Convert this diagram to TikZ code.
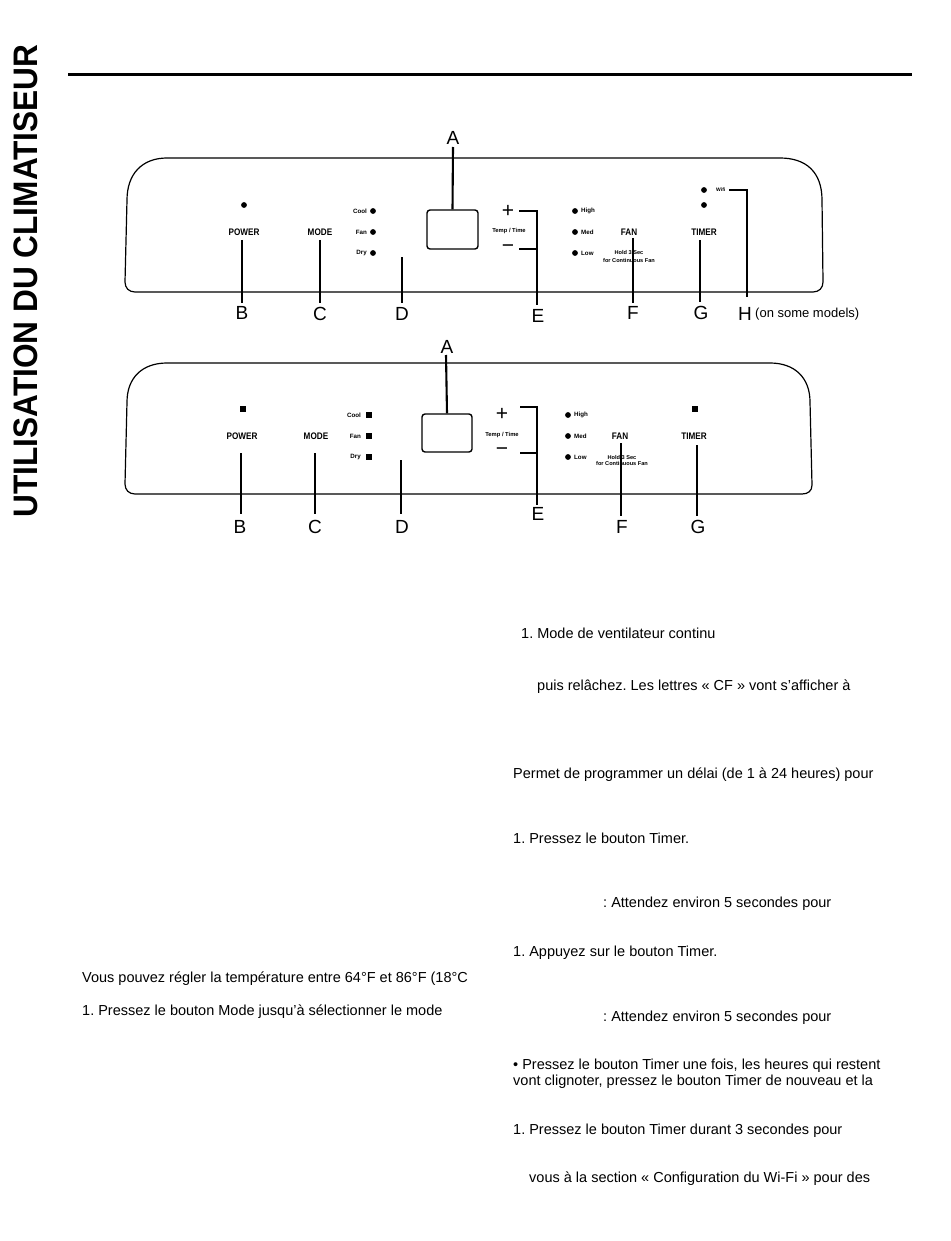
\documentclass[tikz,border=0pt]{standalone}
\usepackage{fontspec}
\setmainfont{Liberation Sans}
\newfontfamily\keyfont[FakeStretch=0.86]{Liberation Sans}
\newfontfamily\ttlfont[FakeStretch=0.93]{Liberation Sans}
\frenchspacing
\begin{document}
\begin{tikzpicture}[x=1pt,y=-1pt,
  panel/.style={line width=1.2pt},
  lead/.style={line width=2.1pt},
  keylbl/.style={inner sep=0, font=\keyfont\bfseries\fontsize{9.5}{9.5}\selectfont},
  tiny/.style={inner sep=0, font=\bfseries\fontsize{6.2}{6.2}\selectfont},
  hold/.style={inner sep=0, font=\bfseries\fontsize{5.6}{5.6}\selectfont},
  letter/.style={inner sep=0, font=\fontsize{19}{19}\selectfont},
  sign/.style={inner sep=0, font=\fontsize{21}{21}\selectfont},
  body/.style={inner sep=0, anchor=base west, font=\fontsize{14.5}{14.5}\selectfont},
  note/.style={inner sep=0, anchor=base west, font=\fontsize{13}{13}\selectfont},
  ledc/.style={fill, circle, minimum size=5.8pt, inner sep=0},
  leds/.style={fill, rectangle, minimum size=5.5pt, inner sep=0},
  disp/.style={draw, line width=1.4pt, rounded corners=3pt, inner sep=0}]
\useasboundingbox (0,0) rectangle (950,1241);
\fill[white] (0,0) rectangle (950,1241);

% side title and header rule
\node[rotate=90, inner sep=0, font=\ttlfont\bfseries\fontsize{34}{34}\selectfont] (title) at (26,281) {UTILISATION DU CLIMATISEUR};
\draw[line width=3pt] (68,75) -- (912,75);

% ================= top panel =================
\draw[panel] (135,292) -- (813,292) .. controls (819,292) and (823,288) .. (823,282)
  -- (822,200) .. controls (822,172) and (806,158) .. (780,158) -- (167,158)
  .. controls (142,158) and (127,174) .. (127,200) -- (125,282)
  .. controls (125,288) and (129,292) .. (135,292) -- cycle;

\node[ledc] (t-pwrled) at (244,205) {};
\node[keylbl] (t-power) at (244,232) {POWER};
\node[keylbl] (t-mode) at (320,232) {MODE};
\node[tiny, anchor=east] (t-cool) at (367,211) {Cool};
\node[tiny, anchor=east] (t-fan) at (367,232) {Fan};
\node[tiny, anchor=east] (t-dry) at (367,253) {Dry};
\node[ledc] (t-coolled) at (373,211) {};
\node[ledc] (t-fanled) at (373,232) {};
\node[ledc] (t-dryled) at (373,253) {};
\node[disp, minimum width=51pt, minimum height=39pt] (t-disp) at (452.5,229.5) {};
\node[sign] (t-plus) at (508,211) {+};
\node[tiny, font=\bfseries\fontsize{5.8}{5.8}\selectfont] (t-temp) at (509,231) {Temp / Time};
\node[sign] (t-minus) at (508,249) {−};
\node[ledc] (t-highled) at (575,211) {};
\node[ledc] (t-medled) at (575,232) {};
\node[ledc] (t-lowled) at (575,253) {};
\node[tiny, anchor=west] (t-high) at (581,211) {High};
\node[tiny, anchor=west] (t-med) at (581,232) {Med};
\node[tiny, anchor=west] (t-low) at (581,253) {Low};
\node[keylbl] (t-fanbtn) at (629,232) {FAN};
\node[hold] (t-hold1) at (629,253) {Hold 3 Sec};
\node[hold] (t-hold2) at (629,260) {for Continuous Fan};
\node[keylbl] (t-timer) at (704,232) {TIMER};
\node[ledc] (t-wifiled) at (704,190) {};
\node[ledc] (t-timerled) at (704,205) {};
\node[tiny, anchor=west, font=\bfseries\fontsize{5}{5}\selectfont] (t-wifi) at (716,190) {Wifi};

% top labels
\node[letter] (tA) at (453,138) {A};
\node[letter] (tB) at (242,313) {B};
\node[letter] (tC) at (320,314) {C};
\node[letter] (tD) at (402,314) {D};
\node[letter] (tE) at (538,316) {E};
\node[letter] (tF) at (633,313) {F};
\node[letter] (tG) at (701,313) {G};
\node[letter] (tH) at (745,314) {H};
\node[note] (tHnote) at (755,317.7) {(on some models)};

% top leaders
\coordinate (tA1) at (453,147);
\coordinate (tB1) at (242,240); \coordinate (tB2) at (242,303);
\coordinate (tC1) at (320,240); \coordinate (tC2) at (320,303);
\coordinate (tD1) at (402,257); \coordinate (tD2) at (402,303);
\coordinate (tE1) at (519,211); \coordinate (tE2) at (537,211);
\coordinate (tE3) at (519,249); \coordinate (tE4) at (537,249);
\coordinate (tE5) at (537,305);
\coordinate (tF1) at (633,238); \coordinate (tF2) at (633,303);
\coordinate (tG1) at (700,240); \coordinate (tG2) at (700,302);
\coordinate (tH1) at (729,190); \coordinate (tH2) at (747,190); \coordinate (tH3) at (747,297);
\draw[lead] (tA1) -- (t-disp.north);
\draw[lead] (tB1) -- (tB2);
\draw[lead] (tC1) -- (tC2);
\draw[lead] (tD1) -- (tD2);
\draw[lead] (tE1) -- (tE2) -- (tE5);
\draw[lead] (tE3) -- (tE4);
\draw[lead] (tF1) -- (tF2);
\draw[lead] (tG1) -- (tG2);
\draw[lead] (tH1) -- (tH2) -- (tH3);

% ================= bottom panel =================
\draw[panel] (135,494) -- (802,494) .. controls (808,494) and (812,491) .. (812,485)
  -- (810,402) .. controls (810,378) and (795,363) .. (770,363) -- (167,363)
  .. controls (142,363) and (127,378) .. (127,402) -- (125,484)
  .. controls (125,490) and (129,494) .. (135,494) -- cycle;

\node[leds] (b-pwrled) at (243,409) {};
\node[keylbl] (b-power) at (242,436) {POWER};
\node[keylbl] (b-mode) at (316,436) {MODE};
\node[tiny, anchor=east] (b-cool) at (361,415) {Cool};
\node[tiny, anchor=east] (b-fan) at (361,436) {Fan};
\node[tiny, anchor=east] (b-dry) at (361,457) {Dry};
\node[leds] (b-coolled) at (369,415) {};
\node[leds] (b-fanled) at (369,436) {};
\node[leds] (b-dryled) at (369,457) {};
\node[disp, minimum width=50pt, minimum height=38pt] (b-disp) at (447,433) {};
\node[sign] (b-plus) at (502,414) {+};
\node[tiny, font=\bfseries\fontsize{5.8}{5.8}\selectfont] (b-temp) at (502,435) {Temp / Time};
\node[sign] (b-minus) at (502,452) {−};
\node[ledc] (b-highled) at (568,415) {};
\node[ledc] (b-medled) at (568,436) {};
\node[ledc] (b-lowled) at (568,457) {};
\node[tiny, anchor=west] (b-high) at (574,415) {High};
\node[tiny, anchor=west] (b-med) at (574,436) {Med};
\node[tiny, anchor=west] (b-low) at (574,457) {Low};
\node[keylbl] (b-fanbtn) at (620,436) {FAN};
\node[hold] (b-hold1) at (622,457) {Hold 3 Sec};
\node[hold] (b-hold2) at (622,463) {for Continuous Fan};
\node[keylbl] (b-timer) at (694,436) {TIMER};
\node[leds] (b-timerled) at (695,409) {};

% bottom labels
\node[letter] (bA) at (447,347) {A};
\node[letter] (bB) at (240,527) {B};
\node[letter] (bC) at (315,527) {C};
\node[letter] (bD) at (402,527) {D};
\node[letter] (bE) at (538,514) {E};
\node[letter] (bF) at (622,527) {F};
\node[letter] (bG) at (698,527) {G};

% bottom leaders
\coordinate (bA1) at (446,355);
\coordinate (bB1) at (241,453); \coordinate (bB2) at (241,514);
\coordinate (bC1) at (315,453); \coordinate (bC2) at (315,514);
\coordinate (bD1) at (401,460); \coordinate (bD2) at (401,514);
\coordinate (bE1) at (520,407); \coordinate (bE2) at (537,407);
\coordinate (bE3) at (520,453); \coordinate (bE4) at (537,453);
\coordinate (bE5) at (537,505);
\coordinate (bF1) at (621,443); \coordinate (bF2) at (621,516);
\coordinate (bG1) at (697,445); \coordinate (bG2) at (697,516);
\draw[lead] (bA1) -- (b-disp.north);
\draw[lead] (bB1) -- (bB2);
\draw[lead] (bC1) -- (bC2);
\draw[lead] (bD1) -- (bD2);
\draw[lead] (bE1) -- (bE2) -- (bE5);
\draw[lead] (bE3) -- (bE4);
\draw[lead] (bF1) -- (bF2);
\draw[lead] (bG1) -- (bG2);

% ================= body text =================
\node[body] (p1) at (82,982) {Vous pouvez régler la température entre 64°F et 86°F (18°C};
\node[body] (p2) at (82,1015) {1. Pressez le bouton Mode jusqu’à sélectionner le mode};
\node[body] (q1) at (521,638) {1. Mode de ventilateur continu};
\node[body] (q2) at (537,690) {puis relâchez. Les lettres « CF » vont s’afficher à};
\node[body] (q3) at (513,778) {Permet de programmer un délai (de 1 à 24 heures) pour};
\node[body] (q4) at (513,843) {1. Pressez le bouton Timer.};
\node[body] (q5) at (603,907) {: Attendez environ 5 secondes pour};
\node[body] (q6) at (513,956) {1. Appuyez sur le bouton Timer.};
\node[body] (q7) at (603,1021) {: Attendez environ 5 secondes pour};
\node[body] (q8) at (513,1069) {• Pressez le bouton Timer une fois, les heures qui restent};
\node[body] (q9) at (513,1085) {vont clignoter, pressez le bouton Timer de nouveau et la};
\node[body] (q10) at (513,1134) {1. Pressez le bouton Timer durant 3 secondes pour};
\node[body] (q11) at (529,1182) {vous à la section « Configuration du Wi-Fi » pour des};
\end{tikzpicture}
\end{document}
